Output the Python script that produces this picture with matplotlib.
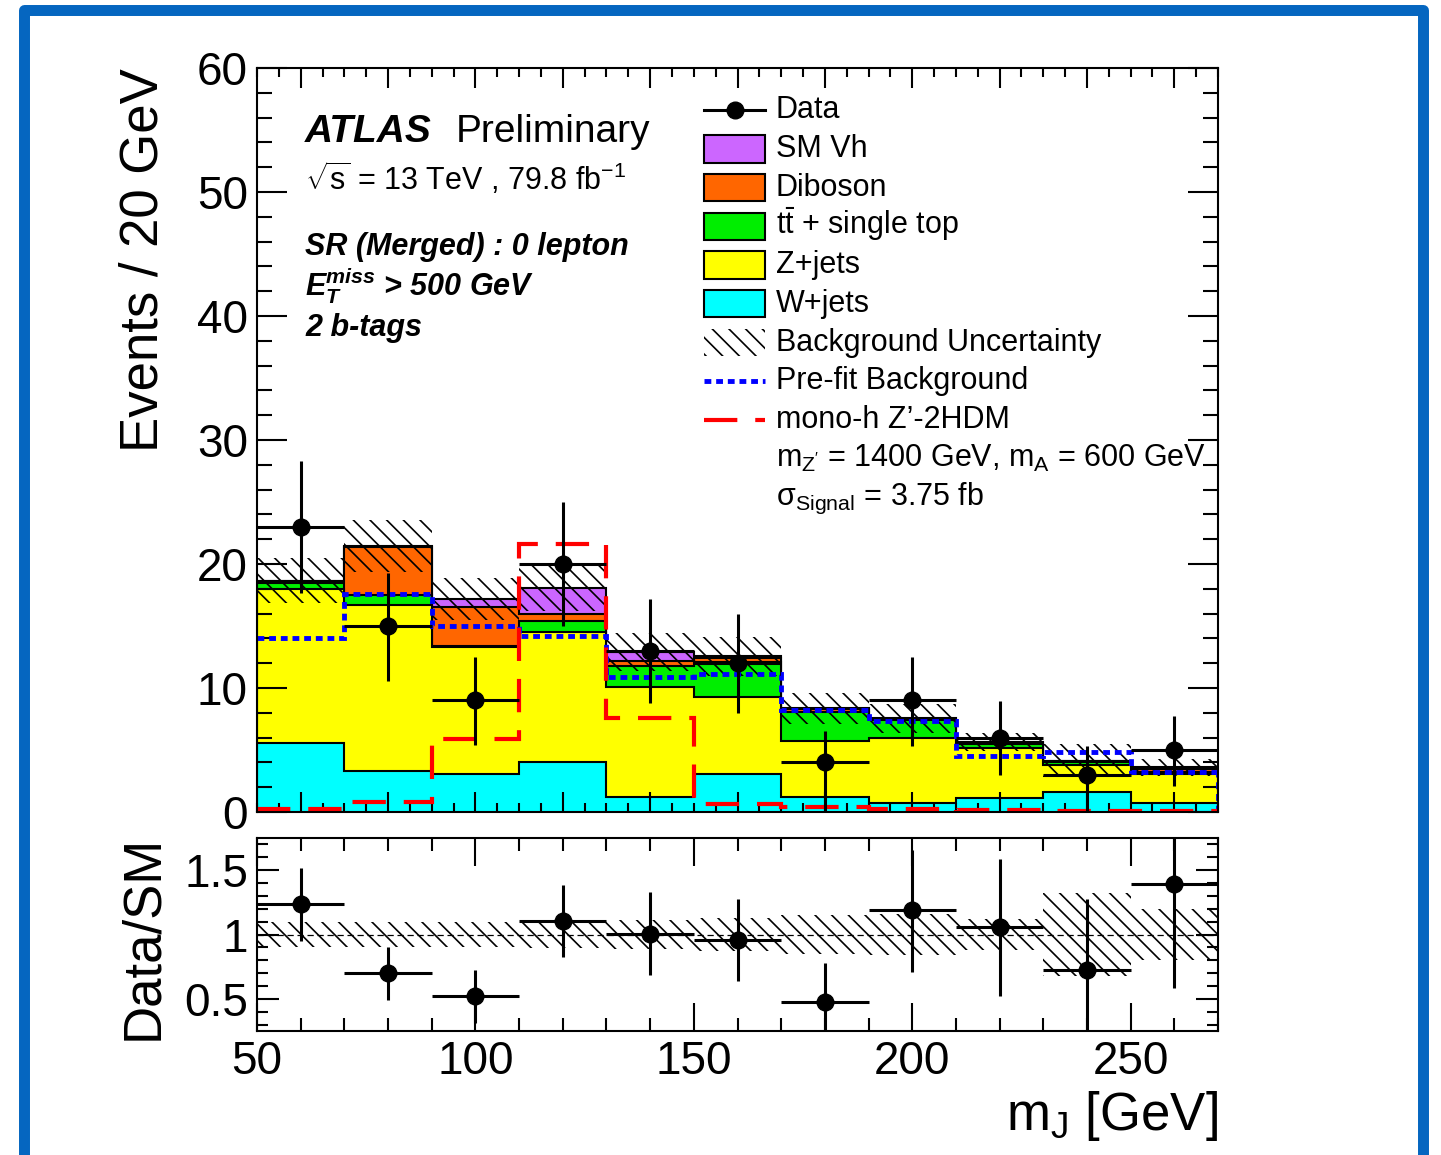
import numpy as np
import matplotlib
matplotlib.use("Agg")
import matplotlib.pyplot as plt
from matplotlib.ticker import MultipleLocator, FuncFormatter
from matplotlib.patches import Rectangle
from matplotlib.lines import Line2D

plt.rcParams["font.family"] = ["Liberation Sans", "DejaVu Sans"]
plt.rcParams["mathtext.fontset"] = "custom"
plt.rcParams["mathtext.rm"] = "Liberation Sans"
plt.rcParams["mathtext.it"] = "Liberation Sans:italic"
plt.rcParams["mathtext.bf"] = "Liberation Sans:bold"
plt.rcParams["mathtext.bfit"] = "Liberation Sans:bold:italic"
plt.rcParams["mathtext.default"] = "regular"
plt.rcParams["hatch.linewidth"] = 1.2
plt.rcParams["hatch.color"] = "black"

# ---- binning and yields (m_J, 20 GeV bins) ----
bin_edges = [50, 70, 90, 110, 130, 150, 170, 190, 210, 230, 250, 270]

data = [23, 15, 9, 20, 13, 12, 4, 9, 6, 3, 5]
data_err_up = [5.3, 4.3, 3.5, 5.0, 4.2, 4.0, 2.5, 3.5, 2.95, 2.3, 2.75]
data_err_dn = [5.3, 4.4, 3.6, 5.0, 4.2, 4.0, 4.0, 3.65, 3.05, 3.0, 2.9]

wjets   = [5.6, 3.3, 3.1, 4.0, 1.2, 3.1, 1.2, 0.7, 1.1, 1.6, 0.7]
zjets   = [12.4, 13.4, 10.2, 10.5, 8.9, 6.2, 4.5, 5.3, 4.1, 2.2, 2.4]
ttbar   = [0.5, 0.8, 0.1, 0.9, 1.7, 2.8, 2.4, 1.4, 0.3, 0.2, 0.1]
diboson = [0.1, 3.9, 3.1, 0.6, 0.4, 0.3, 0.2, 0.1, 0.1, 0.1, 0.3]
smvh    = [0.05, 0.05, 0.7, 2.1, 0.7, 0.15, 0.05, 0.05, 0.05, 0.05, 0.1]

bkg_unc = [1.8, 2.1, 1.7, 1.85, 1.5, 1.6, 1.25, 1.2, 0.7, 1.35, 0.7]
prefit  = [14.0, 17.6, 15.0, 14.2, 10.9, 11.1, 8.2, 7.3, 4.55, 4.85, 3.2]
signal  = [0.22, 0.83, 5.9, 21.6, 7.55, 0.65, 0.38, 0.25, 0.15, 0.12, 0.1]

stack_layers = [
    ("W+jets", wjets, "#00FFFF"),
    ("Z+jets", zjets, "#FFFF00"),
    (r"$t\bar{t}$ + single top", ttbar, "#00EE00"),
    ("Diboson", diboson, "#FF6600"),
    ("SM Vh", smvh, "#CC66FF"),
]

HATCH = "\\\\"

# ---- figure geometry (pixel helpers) ----
W, H = 1441, 1155
fig = plt.figure(figsize=(W / 100, H / 100), dpi=100)
fig.patch.set_facecolor("white")


def fx(px):
    return px / W


def fy(py):
    return 1 - py / H


ax = fig.add_axes([fx(257), fy(812), fx(1218) - fx(257), fy(68) - fy(812)])
rax = fig.add_axes([fx(257), fy(1031), fx(1218) - fx(257), fy(838) - fy(1031)])

edges = np.array(bin_edges, dtype=float)
centers = 0.5 * (edges[:-1] + edges[1:])
half_w = 0.5 * np.diff(edges)

# ---- stacked backgrounds: cumulative histograms drawn from the top down ----
cum = np.cumsum([np.array(v, dtype=float) for _, v, _ in stack_layers], axis=0)
for i in reversed(range(len(stack_layers))):
    ax.stairs(cum[i], edges, baseline=0, fill=True,
              facecolor=stack_layers[i][2], edgecolor="black",
              linewidth=1.5, zorder=1)

total = cum[-1]
unc = np.array(bkg_unc, dtype=float)

# background uncertainty band
ax.stairs(total + unc, edges, baseline=total - unc, fill=True,
          facecolor="none", edgecolor="black", hatch=HATCH, linewidth=0,
          zorder=2)

# pre-fit background (closed at the upper edge of the range) and signal
prefit_style = dict(color="#0000FF", linewidth=3.5, linestyle=(0, (1.4, 1.0)),
                    zorder=3)
ax.stairs(prefit, edges, baseline=None, **prefit_style)
ax.vlines(edges[-1], 0, prefit[-1], **prefit_style)
ax.stairs(signal, edges, baseline=None, color="#FF0000", linewidth=3.0,
          linestyle=(0, (8, 4.3)), zorder=3)

# data
d = np.array(data, dtype=float)
ax.errorbar(centers, d, xerr=half_w, yerr=[data_err_dn, data_err_up],
            fmt="o", color="black", markersize=12, elinewidth=2.2,
            capsize=0, zorder=5)

ax.set_xlim(edges[0], edges[-1])
ax.set_ylim(0, 60)

# ---- ratio panel ----
rel = unc / total
rax.stairs(1 + rel, edges, baseline=1 - rel, fill=True, facecolor="none",
           edgecolor="black", hatch=HATCH, linewidth=0, zorder=2)
rax.axhline(1.0, color="black", linewidth=0.9, linestyle=(0, (5, 3)), zorder=3)
ratio = d / total
rax.errorbar(centers, ratio, xerr=half_w,
             yerr=[np.array(data_err_dn) / total, np.array(data_err_up) / total],
             fmt="o", color="black", markersize=12, elinewidth=2.2,
             capsize=0, zorder=5)
rax.set_xlim(edges[0], edges[-1])
rax.set_ylim(0.25, 1.75)

# ---- axes styling ----
fmt = FuncFormatter(lambda v, _: f"{v:g}")
for a in (ax, rax):
    for s in a.spines.values():
        s.set_linewidth(1.5)
        s.set_zorder(10)
    a.tick_params(which="both", direction="in", top=True, right=True,
                  width=1.5, labelsize=33, pad=6.5, zorder=10)
    a.yaxis.set_major_formatter(fmt)
    a.xaxis.set_major_formatter(fmt)

ax.xaxis.set_major_locator(MultipleLocator(20))
ax.xaxis.set_minor_locator(MultipleLocator(5))
ax.yaxis.set_major_locator(MultipleLocator(10))
ax.yaxis.set_minor_locator(MultipleLocator(2))
ax.tick_params(axis="x", which="major", length=14.4, labelbottom=False)
ax.tick_params(axis="x", which="minor", length=6.5)
ax.tick_params(axis="y", which="major", length=21.6)
ax.tick_params(axis="y", which="minor", length=10.8)

rax.xaxis.set_major_locator(MultipleLocator(50))
rax.xaxis.set_minor_locator(MultipleLocator(10))
rax.yaxis.set_major_locator(MultipleLocator(0.5))
rax.yaxis.set_minor_locator(MultipleLocator(0.1))
rax.tick_params(axis="x", which="major", length=20)
rax.tick_params(axis="x", which="minor", length=9.4)
rax.tick_params(axis="y", which="major", length=16)
rax.tick_params(axis="y", which="minor", length=8)

# axis titles
fig.text(fx(143), fy(68), "Events / 20 GeV", rotation=90, ha="center",
         va="top", fontsize=38)
fig.text(fx(143), fy(937), "Data/SM", rotation=90, ha="center",
         va="center", fontsize=38)
fig.text(fx(1218), fy(1130), r"m$_{J}$ [GeV]", ha="right", va="baseline",
         fontsize=38)

# ---- labels ----
fig.text(fx(305), fy(142), "ATLAS", fontsize=28, fontweight="bold",
         fontstyle="italic")
fig.text(fx(456), fy(142), "Preliminary", fontsize=28)
fig.text(fx(305), fy(190), r"$\sqrt{s}$ = 13 TeV , 79.8 fb$^{-1}$",
         fontsize=22)
fig.text(fx(305), fy(255), "SR (Merged) : 0 lepton", fontsize=22,
         fontweight="bold", fontstyle="italic")
fig.text(fx(305), fy(296),
         r"$\mathbfit{E}_{\mathbfit{T}}^{\mathbfit{miss}}$ > 500 GeV",
         fontsize=22, fontweight="bold", fontstyle="italic")
fig.text(fx(305), fy(336), "2 b-tags", fontsize=22, fontweight="bold",
         fontstyle="italic")

# ---- legend ----
leg_labels = ["Data", "SM Vh", "Diboson", r"$t\bar{t}$ + single top",
              "Z+jets", "W+jets", "Background Uncertainty",
              "Pre-fit Background", "mono-h Z\u2019-2HDM",
              r"m$_{Z'}$ = 1400 GeV, m$_{A}$ = 600 GeV",
              r"$\sigma_{Signal}$ = 3.75 fb"]
box_colors = {lab: col for lab, _, col in stack_layers}
hx0, hx1 = 704, 765
for i, lab in enumerate(leg_labels):
    base = 118.3 + 38.7 * i
    yc = base - 8
    fig.text(fx(776), fy(base), lab, fontsize=22, va="baseline")
    if lab == "Data":
        fig.add_artist(Line2D([fx(hx0), fx(hx1)], [fy(yc), fy(yc)],
                              color="black", linewidth=2.2,
                              transform=fig.transFigure))
        fig.add_artist(Line2D([fx(0.5 * (hx0 + hx1))], [fy(yc)], marker="o",
                              markersize=12, color="black",
                              transform=fig.transFigure))
    elif lab in box_colors:
        fig.add_artist(Rectangle((fx(hx0), fy(yc + 13.6)),
                                 fx(hx1) - fx(hx0), 27.3 / H,
                                 facecolor=box_colors[lab], edgecolor="black",
                                 linewidth=1.5, transform=fig.transFigure))
    elif lab == "Background Uncertainty":
        fig.add_artist(Rectangle((fx(hx0), fy(yc + 13.6)),
                                 fx(hx1) - fx(hx0), 27.3 / H,
                                 facecolor="none", edgecolor="black",
                                 hatch=HATCH, linewidth=0,
                                 transform=fig.transFigure))
    elif lab == "Pre-fit Background":
        fig.add_artist(Line2D([fx(hx0), fx(hx1)], [fy(yc), fy(yc)],
                              transform=fig.transFigure, **prefit_style))
    elif lab.startswith("mono-h"):
        fig.add_artist(Line2D([fx(hx0), fx(hx1)], [fy(yc), fy(yc)],
                              color="#FF0000", linewidth=3.0,
                              linestyle=(0, (8, 4.3)),
                              transform=fig.transFigure))

# ---- page frame ----
fig.add_artist(Rectangle((fx(23.5), fy(1175)), fx(1423) - fx(23.5),
                         fy(10.5) - fy(1175), fill=False,
                         edgecolor="#0566C0", linewidth=7.9,
                         joinstyle="round", transform=fig.transFigure))

fig.savefig("out.png", dpi=100)
